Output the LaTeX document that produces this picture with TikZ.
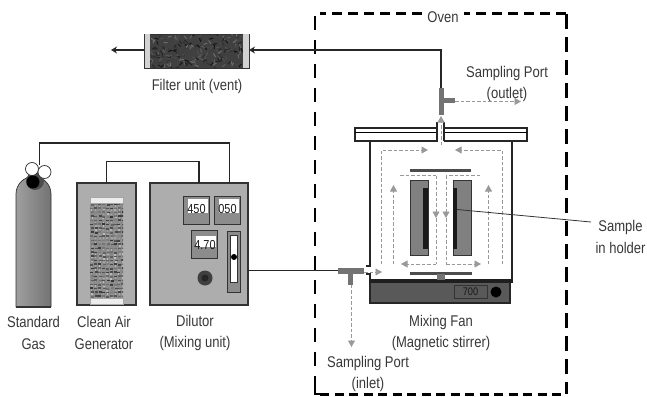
\documentclass[tikz,border=0pt]{standalone}
\usepackage{fontspec}
\setmainfont[FakeStretch=0.84]{Liberation Sans}
\usetikzlibrary{arrows.meta}
\definecolor{boxgray}{gray}{0.68}
\definecolor{frameg}{gray}{0.2}
\definecolor{teegray}{gray}{0.45}
\definecolor{flowg}{gray}{0.6}
\tikzset{
  x=1pt,y=-1pt,
  gbox/.style={draw=frameg,line width=1.6pt,fill=boxgray,inner sep=0,outer sep=0},
  meter/.style={draw=frameg,line width=.7pt,fill=black!45,inner sep=0,outer sep=0,minimum width=26pt,minimum height=28pt},
  window/.style={fill=white,draw=none,inner sep=0,outer sep=0,minimum width=20pt,minimum height=14pt},
  digits/.style={font=\fontsize{13}{13}\selectfont,text=black!90,inner sep=0,outer sep=0},
  pipe/.style={line width=1.4pt,draw=black!85},
  flow/.style={draw=flowg,line width=.8pt,dash pattern=on 3.5pt off 2pt,-{Triangle[length=6.5pt,width=7pt,fill=flowg]}},
  flowline/.style={draw=flowg,line width=.8pt,dash pattern=on 3.5pt off 2pt},
  lab/.style={align=center,font=\fontsize{15.5}{21.5}\selectfont,text=black!78,inner sep=0},
  tee/.style={fill=teegray,draw=none,inner sep=0,outer sep=0},
  darkbar/.style={fill=black!70,draw=none,inner sep=0,outer sep=0},
  holder/.style={fill=gray,draw=frameg,line width=.5pt,inner sep=0,outer sep=0,minimum width=18pt,minimum height=75pt},
  sample/.style={fill=black!90,draw=none,inner sep=0,outer sep=0,minimum width=4.5pt,minimum height=61pt}
}
\begin{document}
\begin{tikzpicture}
\useasboundingbox (0,0) rectangle (647,396);
% oven
\draw[line width=3pt,dash pattern=on 10pt off 6pt] (566,14) -- (320,14);
\draw[line width=2pt,dash pattern=on 14pt off 10pt] (315,16) -- (315,385);
\draw[line width=3pt,dash pattern=on 15pt off 8pt] (566,14) -- (566,394);
\draw[line width=3pt,dash pattern=on 9pt off 5.5pt] (320,394) -- (566,394);
\draw[line width=2pt] (315,384) -- (315,394) -- (320,394);
\node[lab,fill=white,minimum width=42pt,minimum height=14pt] (ovenlab) at (443,17) {Oven};
% cylinder
\shade[left color=gray!75,middle color=gray!8,right color=gray!90!black] (16,307) -- (16,194) arc[start angle=180,end angle=360,radius=17.5] -- (51,307) -- cycle;
\draw[line width=.7pt,draw=frameg] (16,307) -- (16,194) arc[start angle=180,end angle=360,radius=17.5] -- (51,307);
\draw[line width=1.6pt,draw=frameg] (16,307) -- (51,307);
\fill[gray!60!black] (35,181) circle[radius=9];
\node[circle,draw=frameg,fill=white,line width=.7pt,minimum size=13pt,inner sep=0,outer sep=0] (valveA) at (32,169) {};
\node[circle,draw=frameg,fill=white,line width=.7pt,minimum size=13pt,inner sep=0,outer sep=0] (valveB) at (44.5,172) {};
\node[circle,fill=black,minimum size=13pt,inner sep=0,outer sep=0] (valveC) at (33,182) {};
% clean air generator
\node[gbox,minimum width=59pt,minimum height=122pt] (cag) at (106.5,244) {};
\fill[black!45] (90,203) rectangle (123,298);
\pgfmathsetseed{11}
\begin{scope}
\clip (90,203) rectangle (123,298);
\foreach \r in {0,...,23}{
  \foreach \c in {0,...,8}{
    \pgfmathsetmacro{\px}{90+\c*3.9+1.2*rnd}\pgfmathsetmacro{\py}{203+\r*4+1.2*rnd}\pgfmathsetmacro{\sh}{int(50+30*rnd)}
    \fill[black!\sh] (\px,\py) rectangle ++(3,1.5);
    \pgfmathsetmacro{\sha}{int(25+25*rnd)}
    \fill[black!\sha] (\px+.6,\py+1.8) rectangle ++(1.5,1.6);
  }
}
\end{scope}
\draw[draw=gray!70,line width=.5pt,fill=gray!15] (90,197) rectangle (123,203);
\draw[draw=gray!70,line width=.5pt,fill=gray!15] (90,298) rectangle (123,304);
% dilutor
\node[gbox,minimum width=98pt,minimum height=122pt] (dil) at (199,244) {};
\node[meter] (m1) at (196,210) {};
\node[window] (w1) at (197.5,205.5) {};
\node[digits] (d1) at (196.5,209) {450};
\node[meter] (m2) at (227,210) {};
\node[window] (w2) at (228.5,205.5) {};
\node[digits] (d2) at (227.5,209) {050};
\node[meter] (m3) at (204,244.5) {};
\node[window,minimum height=11pt] (w3) at (205.5,241.5) {};
\node[digits] (d3) at (205,245) {4.70};
\node[draw=frameg,line width=.7pt,fill=black!45,inner sep=0,outer sep=0,minimum width=13pt,minimum height=61pt] (slot) at (234,261.5) {};
\node[draw=frameg,line width=.4pt,fill=white,inner sep=0,outer sep=0,minimum width=7pt,minimum height=47pt] (slotw) at (234,258.5) {};
\node[circle,fill=black,minimum size=6pt,inner sep=0,outer sep=0] (slotd) at (234,257) {};
\node[circle,fill=gray!50!black,minimum size=15pt,inner sep=0,outer sep=0] (knobo) at (205,278) {};
\node[circle,fill=black!85,minimum size=7pt,inner sep=0,outer sep=0] (knobi) at (205,278) {};
% piping left
\coordinate (gasout) at (39.5,165);
\coordinate (dilA) at (229.5,183);
\coordinate (dilB) at (199,183);
\draw[pipe] (gasout) |- (229.5,143) -- (dilA);
\draw[pipe] (cag.north) |- (199,161.5) -- (dilB);
% inlet tee
\node[tee,minimum width=26pt,minimum height=6pt] (teeI) at (351,270.5) {};
\node[tee,minimum width=5pt,minimum height=11pt] (teeIs) at (350,279) {};
\draw[pipe] (dil.east |- teeI) -- (teeI.west);
\coordinate (sampI) at (351.5,347);
\draw[flow] (teeIs.south) ++(1.5,0) -- (sampI);
% chamber
\draw[line width=2pt,draw=black!85] (370,141) -- (370,266) -- (366,266);
\draw[line width=1.6pt,draw=black!85] (366,274) -- (370,274) -- (370,280);
\draw[line width=2pt,draw=black!85] (512,141) -- (512,280);
% lid
\draw[line width=1.3pt,draw=black!85,fill=white] (355,128) rectangle (437,141);
\draw[line width=1.3pt,draw=black!85,fill=white] (444,128) rectangle (527,141);
\draw[line width=1.5pt] (355,132.5) -- (437,132.5);
\draw[line width=1.5pt] (444,132.5) -- (527,132.5);
\node[fill=white,inner sep=0,minimum width=6pt,minimum height=22pt] (lidgap) at (440.5,132) {};
\draw[line width=1.1pt,draw=black!85] (437,141) -- (437,123) -- (438,123);
\draw[line width=1.1pt,draw=black!85] (444,141) -- (444,123) -- (443,123);
% stirrer
\node[draw=black!85,line width=1.3pt,fill=black!65,inner sep=0,outer sep=0,minimum width=140pt,minimum height=22pt] (stir) at (440,292) {};
\draw[line width=3.5pt,draw=black!88] (369,281) -- (513,281);
\node[draw=frameg,line width=.6pt,inner sep=0,outer sep=0,minimum width=33pt,minimum height=13pt,font=\fontsize{11}{11}\selectfont,text=black!90] (disp) at (470.5,292) {\raisebox{-2pt}{700}};
\node[circle,fill=black,minimum size=11pt,inner sep=0,outer sep=0] (stirk) at (496,292) {};
% fan
\node[darkbar,minimum width=62pt,minimum height=3pt] (fan) at (441,273.5) {};
\node[fill=black!55,draw=none,inner sep=0,minimum width=8pt,minimum height=6pt] (fanhub) at (441,276.5) {};
% holders
\node[darkbar,minimum width=61pt,minimum height=3.5pt] (topbar) at (440.5,170.5) {};
\node[holder] (hl) at (419,217.5) {};
\node[holder] (hr) at (462.5,217.5) {};
\node[sample] (sl) at (425.5,218.5) {};
\node[sample] (sr) at (455,218.5) {};
% flow arrows
\coordinate (fa) at (381,264); \coordinate (fb) at (502,264);
\draw[flow] (fa) |- (428,150);
\draw[flow] (fb) |- (455,150);
\draw[flow] (393.5,264) -- (393.5,185);
\draw[flow] (488.5,264) -- (488.5,185);
\draw[flowline] (400,175.5) -- (436,175.5);
\draw[flow] (436,175.5) -- (436,218);
\draw[flowline] (480,175.5) -- (446,175.5);
\draw[flow] (446,175.5) -- (446,218);
\draw[flowline] (436,218) -- (436,264);
\draw[flow] (436,264) -- (401,264);
\draw[flowline] (446,218) -- (446,264);
\draw[flow] (446,264) -- (481,264);
\draw[flow] (364,272) -- (382,272);
\draw[flow] (441,145) -- (441,116);
% outlet tee
\node[tee,minimum width=5pt,minimum height=27pt] (teeO) at (441,101.5) {};
\node[tee,minimum width=12pt,minimum height=5.5pt] (teeOs) at (449,100.5) {};
\coordinate (sampO) at (521,101.5);
\draw[flow] (teeOs.east) ++(0,1) -- (sampO);
% filter
\node[draw=frameg,line width=.7pt,fill=black!75,inner sep=0,outer sep=0,minimum width=105pt,minimum height=34pt] (filt) at (196.5,51) {};
\pgfmathsetseed{5}
\begin{scope}
\clip (150,34.5) rectangle (243,67.5);
\foreach \i in {0,...,220}{
  \pgfmathsetmacro{\px}{150+93*rnd}\pgfmathsetmacro{\py}{34+34*rnd}\pgfmathsetmacro{\sh}{int(55+40*rnd)}\pgfmathsetmacro{\an}{360*rnd}
  \draw[black!\sh,line width=1pt] (\px,\py) -- ++(\an:4);
}
\end{scope}
\fill[gray!35] (144.5,34.5) rectangle (150,67.5);
\fill[gray!35] (243,34.5) rectangle (248.5,67.5);
\coordinate (vent) at (111,50);
\draw[pipe,-{Stealth[length=6pt,width=7pt]}] (teeO.north) |- (filt.east |- 0,50);
\draw[pipe,-{Stealth[length=6pt,width=7pt]}] (filt.west |- 0,50) -- (vent);
% sample pointer
\coordinate (sampT) at (591,222);
\draw[line width=.8pt,draw=black!80] (sr.center) ++(2,-9) -- (sampT);
% labels
\node[lab] (l1) at (33.5,333) {Standard\\Gas};
\node[lab] (l2) at (104,333) {Clean Air\\Generator};
\node[lab] (l3) at (195,333) {Dilutor\\(Mixing unit)};
\node[lab] (l4) at (441,333) {Mixing Fan\\(Magnetic stirrer)};
\node[lab] (l5) at (368,374) {Sampling Port\\(inlet)};
\node[lab] (l6) at (507,84) {Sampling Port\\(outlet)};
\node[lab] (l7) at (197,86) {Filter unit (vent)};
\node[lab] (l8) at (620.5,237) {Sample\\in holder};
\end{tikzpicture}
\end{document}
